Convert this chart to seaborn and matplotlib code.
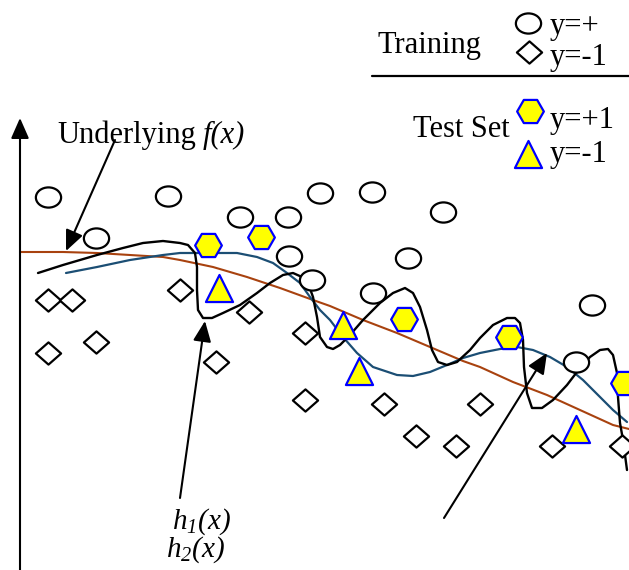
import numpy as np
import pandas as pd
import matplotlib
matplotlib.use("Agg")
import matplotlib.pyplot as plt
import matplotlib.path as mpath
import seaborn as sns

# ------------------------------------------------------------------
# Data (image-like coordinates, y grows downward)
# ------------------------------------------------------------------
train_pos_x = [48, 96, 168, 240, 288, 320, 372, 443, 289, 312, 408, 373, 592, 576]
train_pos_y = [197, 238, 196, 217, 217, 193, 192, 212, 256, 280, 258, 293, 305, 362]

train_neg_x = [48, 72, 48, 96, 180, 249, 216, 305, 305, 384, 416, 456, 480, 552, 622]
train_neg_y = [300, 300, 353, 342, 290, 312, 362, 333, 400, 404, 436, 446, 404, 446, 446]

test_pos_x = [208, 261, 404, 509, 624]
test_pos_y = [245, 237, 319, 337, 383]

test_neg_x = [219, 343, 359, 576]
test_neg_y = [288, 325, 371, 429]

# underlying f(x)
f_x = [20, 63, 97, 130, 163, 180, 213, 247, 280, 313, 330, 363, 397, 430, 463,
       480, 513, 547, 580, 613, 629]
f_y = [252, 252, 253, 255, 257, 260, 267, 277, 288, 300, 306, 320, 333, 347, 361,
       367, 382, 395, 410, 425, 429]

# h1(x): the wiggly overfit curve
h1_x = [38, 63, 97, 123, 143, 163, 180, 188, 195, 197, 197, 198, 203, 212, 223,
        240, 257, 270, 283, 293, 302, 308, 313, 317, 320, 327, 333, 340, 350, 363,
        380, 393, 405, 413, 420, 427, 432, 438, 447, 457, 470, 480, 493, 507, 515,
        520, 523, 524, 527, 532, 542, 553, 567, 580, 590, 600, 608, 613, 617, 618,
        620, 623, 627]
h1_y = [273, 265, 255, 248, 243, 241, 243, 245, 253, 267, 290, 310, 318, 318, 313,
        305, 293, 283, 275, 273, 277, 283, 297, 317, 337, 347, 349, 345, 335, 320,
        303, 293, 288, 293, 307, 330, 350, 362, 365, 362, 350, 338, 325, 318, 318,
        323, 340, 367, 393, 408, 408, 400, 385, 368, 357, 350, 349, 355, 373, 397,
        423, 440, 470]

# h2(x): the smoother fit
h2_x = [66, 97, 130, 163, 180, 213, 237, 257, 273, 287, 300, 310, 320, 330, 343,
        357, 373, 397, 413, 430, 447, 463, 480, 500, 517, 533, 550, 567, 583, 600,
        613, 627]
h2_y = [273, 267, 260, 255, 253, 253, 253, 257, 263, 273, 283, 297, 310, 320, 337,
        353, 367, 375, 376, 372, 365, 358, 353, 349, 347, 350, 357, 367, 380, 397,
        410, 422]

# legend symbols
leg_circle = (528, 23)
leg_diamond = (529, 52)
leg_hex = (530, 111)
leg_tri = (528, 154)

# ------------------------------------------------------------------
# Style
# ------------------------------------------------------------------
sns.set_theme(style="white")
plt.rcParams['font.family'] = ['Liberation Serif', 'DejaVu Serif']
plt.rcParams['text.color'] = 'black'
plt.rcParams['mathtext.fontset'] = 'custom'
plt.rcParams['mathtext.it'] = 'Liberation Serif:italic'
plt.rcParams['mathtext.rm'] = 'Liberation Serif:italic'  # digits/parens italic too

RED = "#A8420F"
BLUE = "#1B4E74"
YELLOW = "#FFFF00"
EDGE_BLUE = "#0000FF"
FS = 22

# slightly squashed circle and diamond, like the drawing
ell = mpath.Path.unit_circle()
ellipse_marker = mpath.Path(ell.vertices * np.array([1.0, 0.8]), ell.codes)
diamond_marker = mpath.Path([(0, 0.88), (1, 0), (0, -0.88), (-1, 0), (0, 0.88)],
                            [1, 2, 2, 2, 79])

fig = plt.figure(figsize=(6.29, 5.70), dpi=100)
ax = fig.add_axes([0, 0, 1, 1])

# curves
sns.lineplot(x=f_x, y=f_y, sort=False, estimator=None, color=RED, lw=1.5, ax=ax)
sns.lineplot(x=h2_x, y=h2_y, sort=False, estimator=None, color=BLUE, lw=1.6, ax=ax)
sns.lineplot(x=h1_x, y=h1_y, sort=False, estimator=None, color="black", lw=1.7, ax=ax)

# training points
sns.scatterplot(x=train_pos_x + [leg_circle[0]], y=train_pos_y + [leg_circle[1]],
                marker=ellipse_marker, s=330, color="white", edgecolor="black",
                linewidth=1.6, zorder=3, ax=ax)
sns.scatterplot(x=train_neg_x + [leg_diamond[0]], y=train_neg_y + [leg_diamond[1]],
                marker=diamond_marker, s=330, color="white", edgecolor="black",
                linewidth=1.6, zorder=3, ax=ax)

# test points
sns.scatterplot(x=test_pos_x + [leg_hex[0]], y=test_pos_y + [leg_hex[1]],
                marker="H", s=370, color=YELLOW, edgecolor=EDGE_BLUE,
                linewidth=1.6, zorder=4, ax=ax)
sns.scatterplot(x=test_neg_x + [leg_tri[0]], y=test_neg_y + [leg_tri[1]],
                marker="^", s=380, color=YELLOW, edgecolor=EDGE_BLUE,
                linewidth=1.6, zorder=4, ax=ax)

ax.set_xlim(0, 629)
ax.set_ylim(570, 0)
ax.axis("off")

# vertical axis with arrow
arrow_kw = dict(arrowstyle="-|>,head_length=0.5,head_width=0.22", mutation_scale=25,
                color="black", lw=1.5, shrinkA=0, shrinkB=0)
ax.annotate("", xy=(20, 118), xytext=(20, 570), arrowprops=arrow_kw)

# pointer arrows
ax.annotate("", xy=(66, 251), xytext=(115, 140), arrowprops=arrow_kw)
ax.annotate("", xy=(205, 321), xytext=(180, 498), arrowprops=arrow_kw)
ax.annotate("", xy=(547, 353), xytext=(444, 518), arrowprops=arrow_kw)

# labels
ax.text(57, 143, "Underlying", fontsize=FS, va="baseline", ha="left")
ax.text(203, 143, "f(x)", fontsize=FS, style="italic", va="baseline", ha="left")
ax.text(172, 529, r"$h_1(x)$", fontsize=21, va="baseline", ha="left")
ax.text(166, 557, r"$h_2(x)$", fontsize=21, va="baseline", ha="left")

# legend block
ax.text(377, 53, "Training", fontsize=FS, va="baseline", ha="left")
ax.text(550, 34, "y=+", fontsize=FS, va="baseline", ha="left")
ax.text(550, 65, "y=-1", fontsize=FS, va="baseline", ha="left")
ax.plot([372, 629], [76, 76], color="black", lw=1.6)
ax.text(413, 137, "Test Set", fontsize=FS, va="baseline", ha="left")
ax.text(550, 128, "y=+1", fontsize=FS, va="baseline", ha="left")
ax.text(550, 162, "y=-1", fontsize=FS, va="baseline", ha="left")

fig.savefig("out.png", dpi=100)
